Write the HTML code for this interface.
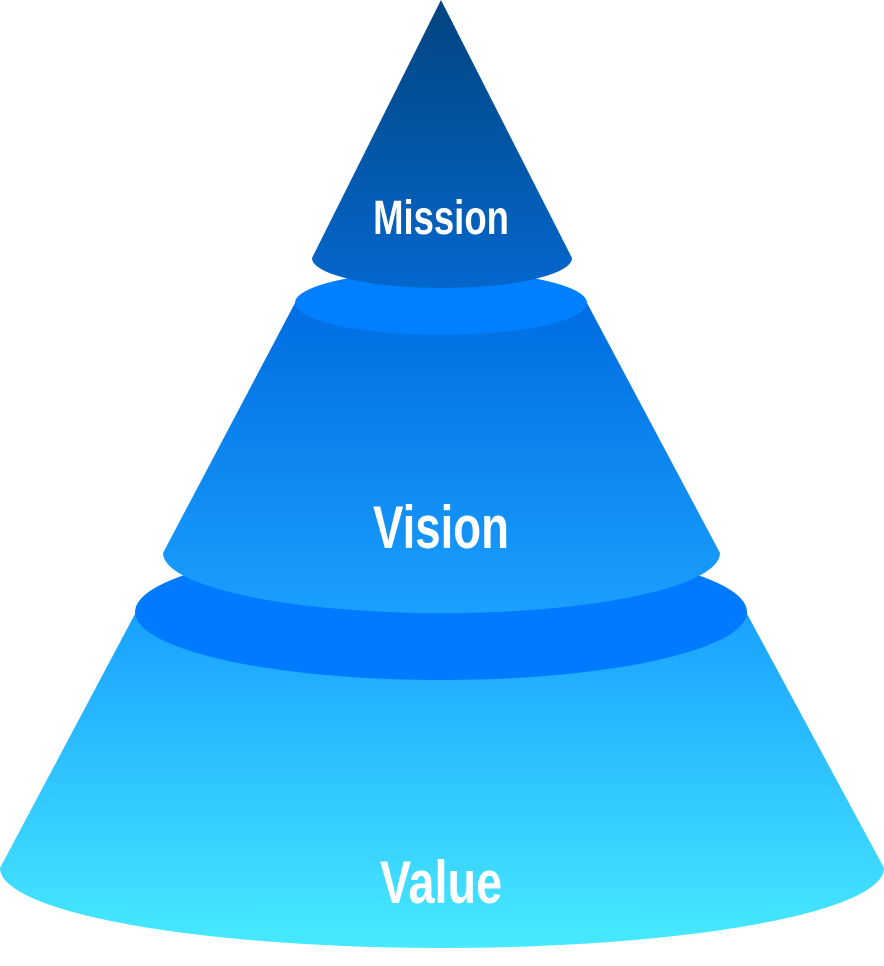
<!DOCTYPE html>
<html><head><meta charset="utf-8"><style>
html,body{margin:0;padding:0;background:#fff;}
svg{display:block}
text{font-family:"Liberation Sans",sans-serif;font-weight:bold;fill:#fff;text-anchor:middle}
</style></head><body>
<svg width="884" height="966" viewBox="0 0 884 966">
<defs>
<linearGradient id="g1" x1="0" y1="0" x2="0" y2="1"><stop offset="0" stop-color="#02447f"/><stop offset="1" stop-color="#0467cc"/></linearGradient>
<linearGradient id="g2" x1="0" y1="0" x2="0" y2="1"><stop offset="0" stop-color="#006ce0"/><stop offset="1" stop-color="#1aa0ff"/></linearGradient>
<linearGradient id="g3" x1="0" y1="0" x2="0" y2="1"><stop offset="0" stop-color="#18a0ff"/><stop offset="1" stop-color="#48eaff"/></linearGradient>
</defs>
<path d="M136,612 L746,612 L884,868 A442,80 0 0 1 0,868 Z" fill="url(#g3)"/>
<ellipse cx="441" cy="612" rx="306" ry="68" fill="#007bff"/>
<path d="M295,303 L587,303 L720,553 A278,60 0 0 1 163,553 Z" fill="url(#g2)"/>
<ellipse cx="441" cy="303" rx="146" ry="32" fill="#0080ff"/>
<path d="M441,0 L572,258 A130,30 0 0 1 312,258 Z" fill="url(#g1)"/>
<text x="441" y="234" font-size="48" transform="translate(441 0) scale(0.76 1) translate(-441 0)">Mission</text>
<text x="441" y="548" font-size="60" transform="translate(441 0) scale(0.76 1) translate(-441 0)">Vision</text>
<text x="441" y="903" font-size="60" transform="translate(441 0) scale(0.78 1) translate(-441 0)">Value</text>
</svg>
</body></html>
